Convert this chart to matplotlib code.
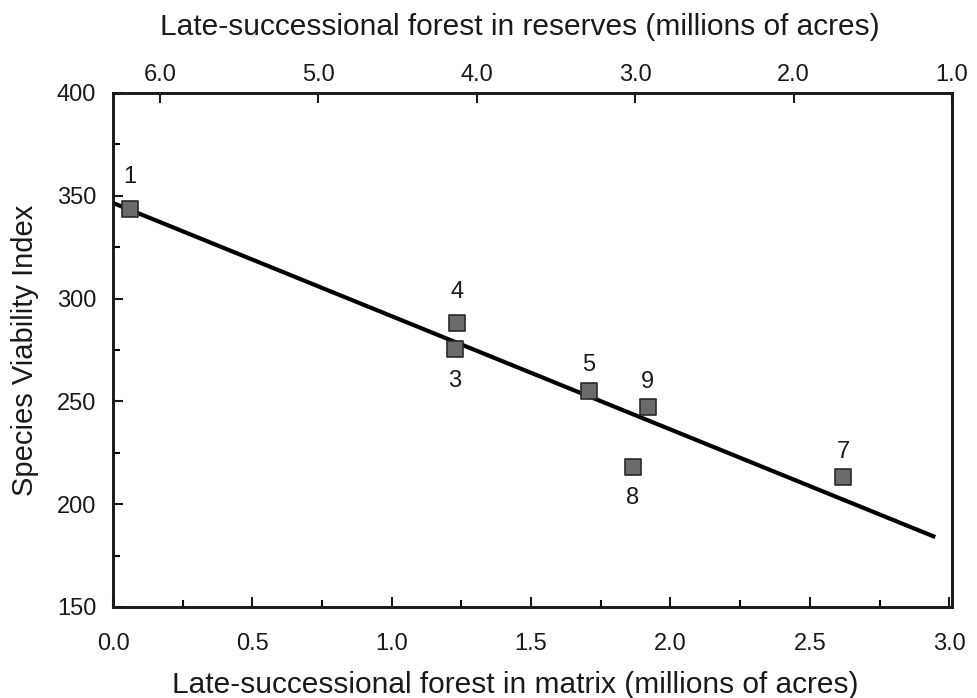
import matplotlib
matplotlib.use("Agg")
import matplotlib.pyplot as plt
from matplotlib.ticker import MultipleLocator, FixedLocator, FormatStrFormatter

plt.rcParams['font.family'] = ['Liberation Sans', 'DejaVu Sans']

# ---- data ----
labels = ["1", "4", "3", "5", "9", "8", "7"]
matrix = [0.061, 1.233, 1.226, 1.706, 1.918, 1.864, 2.620]
svi = [343.6, 288.1, 275.5, 255.1, 247.3, 218.0, 213.2]
fit_x = [0.0, 2.95]
fit_y = [346.5, 184.0]
reserve_ticks = [6.0, 5.0, 4.0, 3.0, 2.0, 1.0]

# label offsets (points): positive = above
label_dy = [23, 22, -23, 19, 18, -22, 18]

fig = plt.figure(figsize=(9.77, 6.98), dpi=100)
ax = fig.add_axes([0.1157, 0.1304, 0.9744 - 0.1157, 0.8668 - 0.1304])

tc = '#1a1a1a'
ax.plot(fit_x, fit_y, color='black', lw=3.0, solid_capstyle='butt', zorder=2)
ax.scatter(matrix, svi, marker='s', s=125, facecolor='#6a6a6a',
           edgecolor='#2a2a2a', linewidth=1.2, zorder=3)
for lab, x, y, dy in zip(labels, matrix, svi, label_dy):
    ax.annotate(lab, (x, y), xytext=(0, dy), textcoords='offset points',
                ha='center', va='center', fontsize=17, color=tc)

ax.set_xlim(0, 3.01)
ax.set_ylim(150, 400)
ax.xaxis.set_major_locator(MultipleLocator(0.5))
ax.xaxis.set_minor_locator(MultipleLocator(0.25))
ax.xaxis.set_major_formatter(FormatStrFormatter('%.1f'))
ax.yaxis.set_major_locator(MultipleLocator(50))
ax.yaxis.set_minor_locator(MultipleLocator(25))

for s in ax.spines.values():
    s.set_linewidth(1.9)
    s.set_color('#1a1a1a')

ax.tick_params(axis='x', which='major', direction='in', length=7, width=1.5,
               labelsize=17, pad=19, colors=tc)
ax.tick_params(axis='x', which='minor', direction='in', length=5, width=1.5)
ax.tick_params(axis='y', which='major', direction='in', length=7, width=1.5,
               labelsize=17, pad=12, colors=tc)
ax.tick_params(axis='y', which='minor', direction='in', length=5, width=1.5)

ax.set_xlabel('Late-successional forest in matrix (millions of acres)',
              fontsize=21.5, color=tc, labelpad=1)
ax.xaxis.set_label_coords(0.48, -0.125)
ax.set_ylabel('Species Viability Index', fontsize=21, color=tc, labelpad=13)

top = ax.twiny()
top.set_xlim(6.297, 1.0)
top.xaxis.set_major_locator(FixedLocator(reserve_ticks))
top.xaxis.set_major_formatter(FormatStrFormatter('%.1f'))
top.tick_params(axis='x', which='major', direction='in', length=7, width=1.5,
                labelsize=17, pad=5, colors=tc)
top.set_xlabel('Late-successional forest in reserves (millions of acres)',
               fontsize=21.5, color=tc)
top.xaxis.set_label_coords(0.485, 1.113)
for s in top.spines.values():
    s.set_linewidth(1.9)
    s.set_color('#1a1a1a')

fig.savefig('out.png', dpi=100)
